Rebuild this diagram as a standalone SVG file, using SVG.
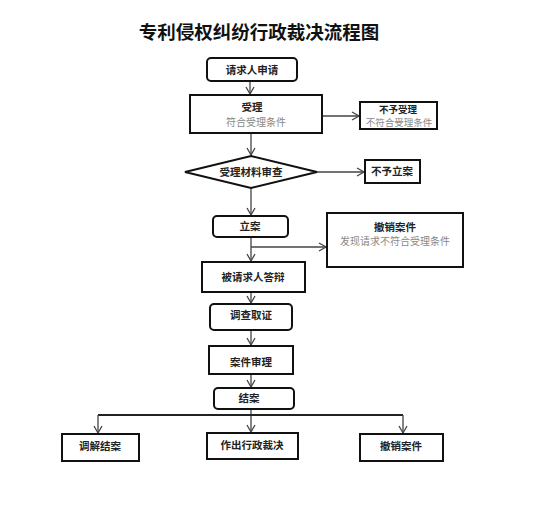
<svg xmlns="http://www.w3.org/2000/svg" width="554" height="509" viewBox="0 0 554 509">
<style>
.box{fill:#fff;stroke:#111;stroke-width:2}
.t{font-family:"Noto Sans CJK SC","Liberation Serif",serif;font-size:10.5px;fill:#222;text-anchor:middle;font-weight:bold}
.g{font-family:"Noto Sans CJK SC","Liberation Serif",serif;font-size:10px;fill:#888;text-anchor:middle}
.s{font-size:9.5px}
.c{fill:none;stroke:#444;stroke-width:1.3}
.title{font-family:"Noto Sans CJK SC",sans-serif;font-size:18.5px;font-weight:bold;fill:#111;text-anchor:middle}
</style>
<defs>
<marker id="a" markerWidth="10" markerHeight="10" refX="8" refY="5" orient="auto" markerUnits="userSpaceOnUse">
<path d="M1,1 L8,5 L1,9" fill="none" stroke="#444" stroke-width="1.3"/>
</marker>
</defs>
<rect width="554" height="509" fill="#fff"/>
<text class="title" x="259" y="39">专利侵权纠纷行政裁决流程图</text>
<g id="connectors">
<path class="c" d="M250,81 V94" marker-end="url(#a)"/>
<path class="c" d="M322,116 H359" marker-end="url(#a)"/>
<path class="c" d="M251,133 V155" marker-end="url(#a)"/>
<path class="c" d="M317,172 H364" marker-end="url(#a)"/>
<path class="c" d="M251,188 V215" marker-end="url(#a)"/>
<path class="c" d="M251,237 V261" marker-end="url(#a)"/>
<path class="c" d="M251,247 H326" marker-end="url(#a)"/>
<path class="c" d="M251,292 V303" marker-end="url(#a)"/>
<path class="c" d="M251,330 V345" marker-end="url(#a)"/>
<path class="c" d="M251,374 V387" marker-end="url(#a)"/>
<path class="c" d="M251,409 V432" marker-end="url(#a)"/>
<path class="c" d="M98,415 H403" style="stroke-width:2;stroke:#222"/>
<path class="c" d="M98,415 V433" marker-end="url(#a)"/>
<path class="c" d="M403,415 V433" marker-end="url(#a)"/>
</g>
<g id="n1"><rect class="box" x="207" y="58" width="90" height="23" rx="4"/><text class="t" x="252" y="74">请求人申请</text></g>
<g id="n2"><rect class="box" x="190" y="95" width="132" height="38"/><text class="t" x="252" y="111">受理</text><text class="g" x="256" y="126">符合受理条件</text></g>
<g id="n3"><rect class="box" x="360" y="102" width="77" height="27"/><text class="t s" x="398" y="113">不予受理</text><text class="g s" x="399" y="126">不符合受理条件</text></g>
<g id="n4"><polygon class="box" points="185,172 251,156 317,172 251,188"/><text class="t" x="251" y="176">受理材料审查</text></g>
<g id="n5"><rect class="box" x="365" y="160" width="55" height="23"/><text class="t" x="392" y="175">不予立案</text></g>
<g id="n6"><rect class="box" x="213" y="216" width="75" height="21" rx="4"/><text class="t" x="250" y="230">立案</text></g>
<g id="n7"><rect class="box" x="327" y="213" width="136" height="54"/><text class="t" x="395" y="231">撤销案件</text><text class="g" x="395" y="245">发现请求不符合受理条件</text></g>
<g id="n8"><rect class="box" x="202" y="262" width="103" height="30"/><text class="t" x="253" y="281">被请求人答辩</text></g>
<g id="n9"><rect class="box" x="210" y="304" width="82" height="26" rx="4"/><text class="t" x="251" y="319">调查取证</text></g>
<g id="n10"><rect class="box" x="209" y="346" width="84" height="28"/><text class="t" x="251" y="366">案件审理</text></g>
<g id="n11"><rect class="box" x="214" y="388" width="80" height="21" rx="4"/><text class="t" x="249" y="402">结案</text></g>
<g id="n12"><rect class="box" x="62" y="434" width="77" height="27"/><text class="t" x="100" y="450">调解结案</text></g>
<g id="n13"><rect class="box" x="207" y="433" width="91" height="26"/><text class="t" x="252" y="449">作出行政裁决</text></g>
<g id="n14"><rect class="box" x="360" y="434" width="83" height="27"/><text class="t" x="401" y="450">撤销案件</text></g>
</svg>
